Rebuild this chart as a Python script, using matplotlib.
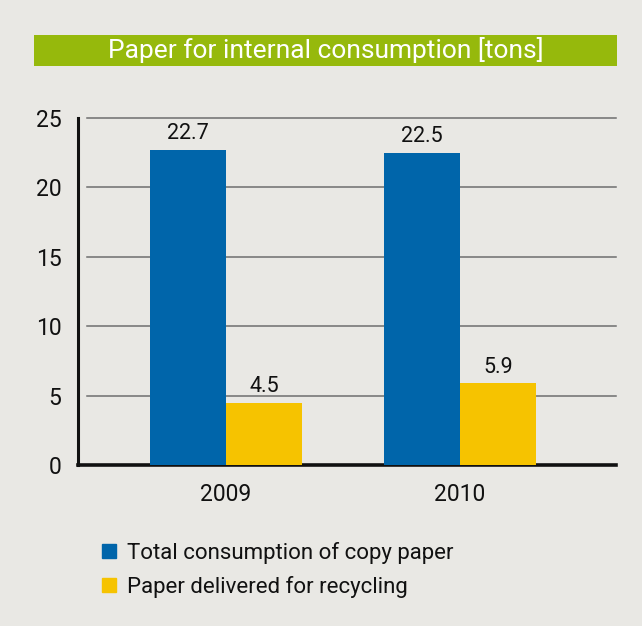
import matplotlib.pyplot as plt
from matplotlib.patches import Rectangle
from matplotlib.lines import Line2D
import numpy as np

plt.rcParams["font.family"] = ["Roboto", "DejaVu Sans"]

# data
years = ["2009", "2010"]
total_copy = [22.7, 22.5]
recycled = [4.5, 5.9]
series_names = ["Total consumption of copy paper", "Paper delivered for recycling"]

blue = "#0065aa"
yellow = "#f6c300"
green = "#96b90c"
bg = "#e9e8e4"

W, H = 642, 626
fig = plt.figure(figsize=(W / 100, H / 100), dpi=100, facecolor=bg)

# title bar
fig.patches.append(Rectangle((34 / W, 1 - 66 / H), 583 / W, 31 / H,
                             transform=fig.transFigure, facecolor=green,
                             edgecolor="none"))
fig.text(326 / W, 1 - 50 / H, "Paper for internal consumption [tons]",
         color="white", fontsize=19, ha="center", va="center")

# axes in pixel coords
left, right, top, bottom = 78, 616, 118, 465
ax = fig.add_axes([left / W, 1 - bottom / H, (right - left) / W, (bottom - top) / H])
ax.set_facecolor("none")

x = np.arange(len(years))
w = 0.325
b1 = ax.bar(x - w / 2, total_copy, w, color=blue, zorder=3)
b2 = ax.bar(x + w / 2, recycled, w, color=yellow, zorder=3)

for bars, vals in [(b1, total_copy), (b2, recycled)]:
    for r, v in zip(bars, vals):
        ax.text(r.get_x() + r.get_width() / 2, v + 0.4, f"{v:.1f}",
                ha="center", va="bottom", fontsize=15.5, color="#111111")

ax.set_xlim(-0.632, 1.667)
ax.set_ylim(0, 25)
ax.set_yticks([0, 5, 10, 15, 20, 25])
ax.set_xticks(x)
ax.set_xticklabels(years)
ax.tick_params(axis="both", length=0, labelsize=16.5, colors="#111111")
ax.tick_params(axis="y", pad=12)
ax.tick_params(axis="x", pad=13)

# gridlines start a bit right of the spine
for yv in [5, 10, 15, 20, 25]:
    ax.plot([-0.595, 1.667], [yv, yv], color="#6e6e6e", lw=1.1, zorder=1,
            clip_on=False)

for s in ["top", "right"]:
    ax.spines[s].set_visible(False)
ax.spines["left"].set_linewidth(2.2)
ax.spines["bottom"].set_linewidth(2.6)
ax.spines["left"].set_color("#111111")
ax.spines["bottom"].set_color("#111111")

handles = [Line2D([], [], marker="s", ls="none", color=blue, markersize=10.5),
           Line2D([], [], marker="s", ls="none", color=yellow, markersize=10.5)]
fig.legend(handles, series_names, loc="upper left",
           bbox_to_anchor=(78 / W, 1 - 522 / H), frameon=False, fontsize=16,
           handletextpad=0.3, labelspacing=0.55, handlelength=1.0,
           labelcolor="#111111")

fig.savefig("out.png", dpi=100, facecolor=bg)
